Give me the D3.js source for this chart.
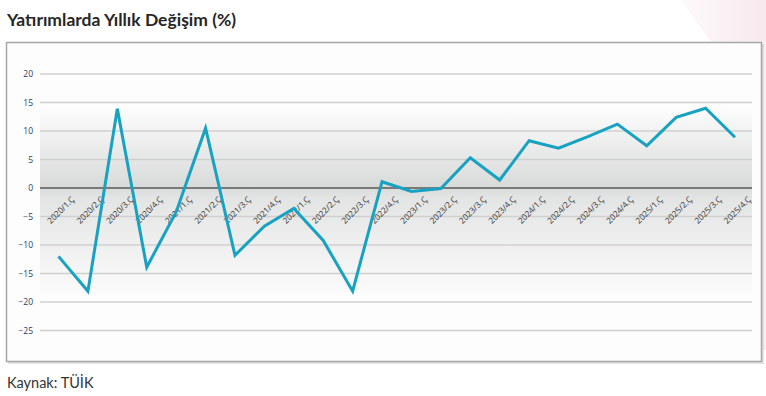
<!DOCTYPE html>
<html>
<head>
<meta charset="utf-8">
<script src="https://cdn.jsdelivr.net/npm/d3@7"></script>
<style>
  html, body { margin: 0; padding: 0; background: #fff; }
  svg { display: block; }
</style>
</head>
<body>
<script>
// veriler
var quarters = ["2020/1.Ç","2020/2.Ç","2020/3.Ç","2020/4.Ç",
  "2021/1.Ç","2021/2.Ç","2021/3.Ç","2021/4.Ç",
  "2022/1.Ç","2022/2.Ç","2022/3.Ç","2022/4.Ç",
  "2023/1.Ç","2023/2.Ç","2023/3.Ç","2023/4.Ç",
  "2024/1.Ç","2024/2.Ç","2024/3.Ç","2024/4.Ç",
  "2025/1.Ç","2025/2.Ç","2025/3.Ç","2025/4.Ç"];
var changes = [-12.0, -18.1, 13.9, -13.9,
  -4.2, 10.5, -11.8, -6.7,
  -3.6, -9.2, -18.1, 1.1,
  -0.6, -0.1, 5.3, 1.4,
  8.3, 7.0, 9.0, 11.2,
  7.4, 12.4, 14.0, 8.9];
var yTicks = [20, 15, 10, 5, 0, -5, -10, -15, -20, -25];

var W = 766, H = 396;

var svg = d3.select("body").append("svg")
  .attr("width", W)
  .attr("height", H);

var defs = svg.append("defs");

var pink = defs.append("linearGradient").attr("id", "pink")
  .attr("x1", "0").attr("y1", "0").attr("x2", "1").attr("y2", "0");
pink.append("stop").attr("offset", "0").attr("stop-color", "#fdf7f8");
pink.append("stop").attr("offset", "1").attr("stop-color", "#f3dfe5");

var plotFill = defs.append("linearGradient").attr("id", "plotFill")
  .attr("x1", "0").attr("y1", "0").attr("x2", "0").attr("y2", "1");
plotFill.append("stop").attr("offset", "0").attr("stop-color", "#ffffff");
plotFill.append("stop").attr("offset", "0.44").attr("stop-color", "#d9dada");
plotFill.append("stop").attr("offset", "0.5").attr("stop-color", "#e3e4e4");
plotFill.append("stop").attr("offset", "1").attr("stop-color", "#fbfbfb");

// sag ust kose pembe dekor
svg.append("polygon")
  .attr("points", "680,0 766,0 766,115")
  .attr("fill", "url(#pink)")
  .attr("opacity", 0.7);
svg.append("rect")
  .attr("x", 762).attr("y", 40).attr("width", 4).attr("height", 310)
  .attr("fill", "#f8eef1");

// baslik
svg.append("text")
  .attr("x", 7).attr("y", 26)
  .attr("font-family", "Lato, sans-serif")
  .attr("font-weight", "bold")
  .attr("font-size", "17.5px")
  .attr("fill", "#262626")
  .text("Yatırımlarda Yıllık Değişim (%)");

// grafik cercevesi
svg.append("rect")
  .attr("x", 8).attr("y", 44).attr("width", 756).attr("height", 320)
  .attr("fill", "#c8c8c8").attr("opacity", 0.5);
svg.append("rect")
  .attr("x", 6.5).attr("y", 42.5).attr("width", 755).attr("height", 319)
  .attr("fill", "#fdfdfd")
  .attr("stroke", "#a6a6a6")
  .attr("stroke-width", 1.5);

var x = d3.scalePoint().domain(quarters).range([58.5, 735]);
var y = d3.scaleLinear().domain([-25, 20]).range([330.5, 74]);

var left = 40, right = 752;

// plot alani dolgusu
svg.append("rect")
  .attr("x", left).attr("y", y(15))
  .attr("width", right - left).attr("height", y(-18.5) - y(15))
  .attr("fill", "url(#plotFill)");

// yatay kilavuz cizgileri
svg.append("g").selectAll("line")
  .data(yTicks.filter(function(d) { return d !== 0; }))
  .join("line")
  .attr("x1", left).attr("x2", right)
  .attr("y1", function(d) { return y(d); })
  .attr("y2", function(d) { return y(d); })
  .attr("stroke", "#d0d0d0")
  .attr("stroke-width", 1.3);

// y ekseni
var yAxis = svg.append("g")
  .attr("transform", "translate(" + 33 + ",0)")
  .call(d3.axisLeft(y).tickValues(yTicks).tickSize(0).tickPadding(0));
yAxis.select(".domain").remove();
yAxis.selectAll("text")
  .attr("font-family", "Open Sans, sans-serif")
  .attr("font-size", "8.5px")
  .attr("fill", "#1f3a68");

// sifir cizgisi
svg.append("line")
  .attr("x1", left).attr("x2", right)
  .attr("y1", y(0)).attr("y2", y(0))
  .attr("stroke", "#595959")
  .attr("stroke-width", 1.4);

// x ekseni etiketleri
var xAxis = svg.append("g")
  .attr("transform", "translate(0," + y(0) + ")")
  .call(d3.axisBottom(x).tickSize(0).tickPadding(0));
xAxis.select(".domain").remove();
xAxis.selectAll("text")
  .attr("font-family", "Open Sans, sans-serif")
  .attr("font-size", "8.3px")
  .attr("fill", "#333333")
  .attr("text-anchor", "end")
  .attr("dy", null)
  .attr("y", 0)
  .attr("transform", "translate(16,12) rotate(-45)");

// seri cizgisi
var line = d3.line()
  .x(function(d, i) { return x(quarters[i]); })
  .y(function(d) { return y(d); });

svg.append("path")
  .datum(changes)
  .attr("d", line)
  .attr("fill", "none")
  .attr("stroke", "#18a2c2")
  .attr("stroke-width", 3)
  .attr("stroke-linejoin", "miter");

// kaynak
svg.append("text")
  .attr("x", 7).attr("y", 388)
  .attr("font-family", "Lato, sans-serif")
  .attr("font-size", "14.5px")
  .attr("fill", "#333")
  .text("Kaynak: TÜİK");
</script>
</body>
</html>
